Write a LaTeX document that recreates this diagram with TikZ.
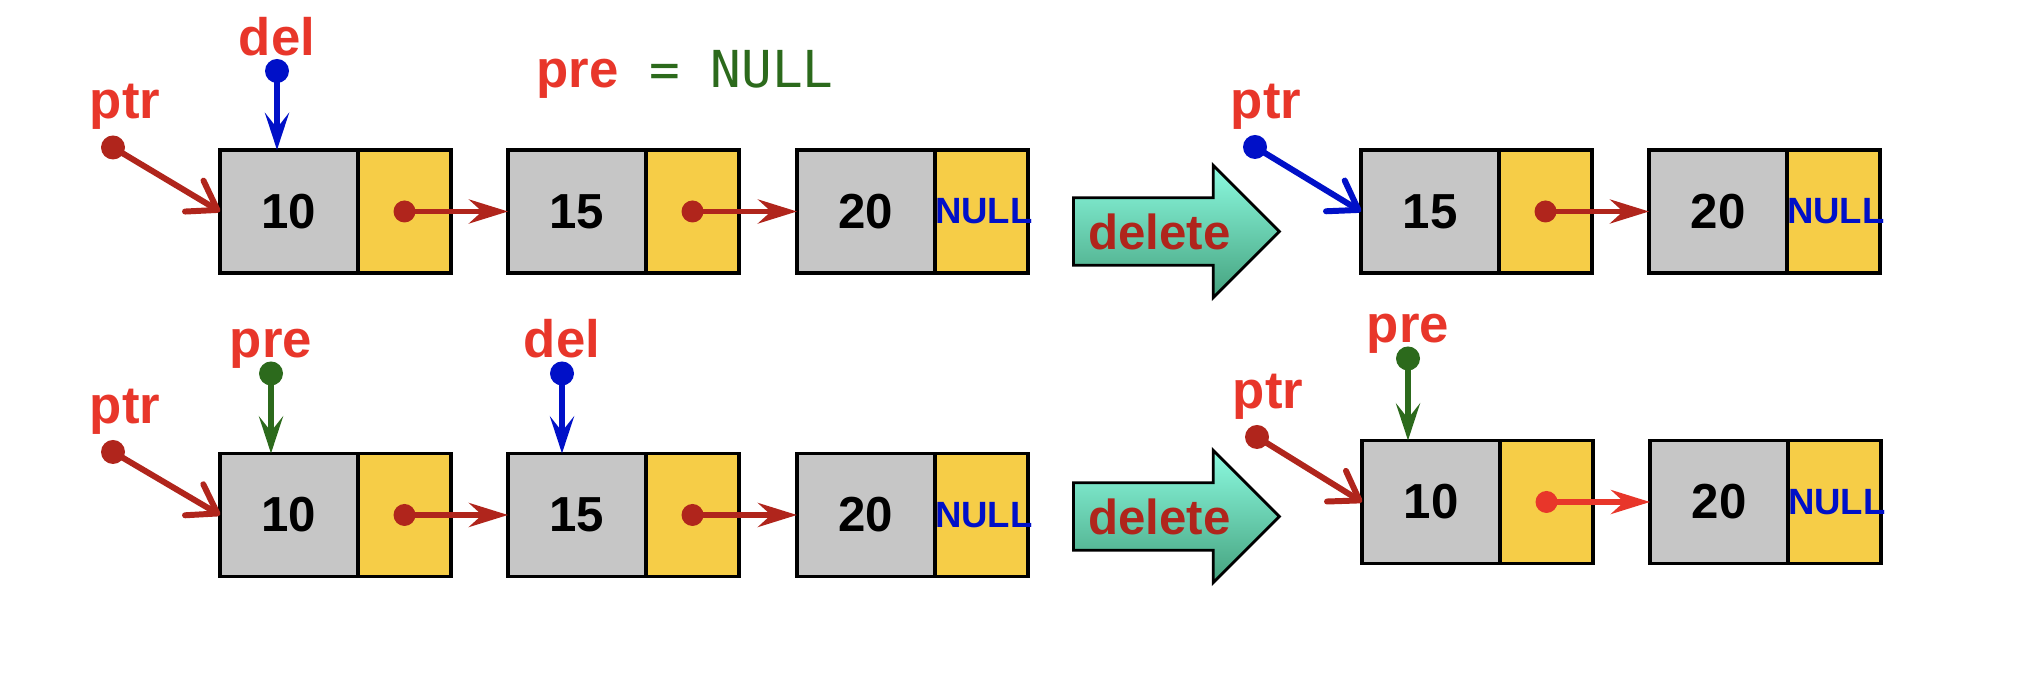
\documentclass[tikz,border=0pt]{standalone}
\usepackage{fontspec}
\setmainfont{Liberation Sans}
\newfontfamily\monofont{DejaVu Sans Mono}
\usepackage{tikz}
\usetikzlibrary{arrows.meta, shapes.arrows, positioning, calc}
\definecolor{labred}{HTML}{E8362A}
\definecolor{linkred}{HTML}{B0251C}
\definecolor{delblue}{HTML}{0010C8}
\definecolor{pregreen}{HTML}{2C6A1C}
\definecolor{cellgray}{HTML}{C6C6C6}
\definecolor{cellyel}{HTML}{F6CD47}
\definecolor{mint}{HTML}{6CE8BE}
\definecolor{mintlt}{HTML}{8CFAE0}
\definecolor{mintdk}{HTML}{45A27E}
\tikzset{
  >=Stealth,
  datcell/.style = {draw, line width=0.9pt, fill=cellgray,
                    minimum width=13.8mm, minimum height=12.3mm,
                    inner sep=0pt, outer sep=0pt,
                    font=\fontsize{14}{16}\selectfont\bfseries},
  nxtcell/.style = {draw, line width=0.9pt, fill=cellyel,
                    minimum width=9.3mm, minimum height=12.3mm,
                    text width=9.3mm, align=center,
                    inner sep=0pt, outer sep=0pt, text=delblue,
                    font=\fontsize{10.4}{12}\selectfont\bfseries},
  pdot/.style    = {circle, inner sep=0pt, minimum size=2.4mm, fill=#1},
  ldot/.style    = {circle, inner sep=0pt, minimum size=2.2mm, fill=#1},
  vname/.style   = {inner sep=0pt, text=labred,
                    font=\fontsize{15}{18}\selectfont\bfseries},
  ptrarr/.style  = {line width=1.7pt, line cap=round, draw=#1,
                    -{Straight Barb[length=2.7mm, width=3.6mm, round]}},
  downarr/.style = {line width=1.6pt, draw=#1,
                    -{Stealth[length=3.7mm, width=2.4mm, inset=1.5mm]}},
  nextarr/.style = {line width=1.6pt, draw=#1,
                    -{Stealth[length=3.9mm, width=2.4mm, inset=1.3mm]}},
  delarr/.style  = {single arrow, draw=black, line width=0.8pt,
                    single arrow head extend=3.25mm, single arrow tip angle=90,
                    minimum height=20.6mm, inner xsep=2pt, inner ysep=4.1pt,
                    text height=10.2pt, text depth=0pt,
                    top color=mintlt, middle color=mint, bottom color=mintdk,
                    text=linkred, font=\fontsize{14}{16}\selectfont\bfseries},
}

\begin{document}
\begin{tikzpicture}[node distance = 0pt and 5.7mm]
  \useasboundingbox (0,0) rectangle (20.17,6.73);

  % first case: del is the head
  \node[datcell]                    (a1)  at (2.89,4.615) {10};
  \node[nxtcell, right=0pt of a1]   (a1n) {};
  \node[datcell, right=5.7mm of a1n] (a2) {15};
  \node[nxtcell, right=0pt of a2]   (a2n) {};
  \node[datcell, right=5.8mm of a2n] (a3) {20};
  \node[nxtcell, right=0pt of a3]   (a3n) {NULL};

  \node[pdot=linkred] (pa) at ($(a1.west)+(-1.07,0.64)$) {};
  \node[vname, above=1.6mm of pa, anchor=base, xshift=1.2mm] (lpa) {ptr};
  \node[pdot=delblue] (da) at ($(a1.north)+(-0.12,0.79)$) {};
  \node[vname, above=0.3mm of da, anchor=base] (lda) {del};
  \node[vname, anchor=base] (prenull) at (6.85,5.85)
    {pre{\monofont\mdseries\fontsize{14.5}{17}\selectfont\color{pregreen}\ = NULL}};

  \node[delarr, anchor=tail] (go1) at (10.72,4.415) {delete};

  \node[datcell]                    (c1)  at (14.30,4.615) {15};
  \node[nxtcell, right=0pt of c1]   (c1n) {};
  \node[datcell, right=5.7mm of c1n] (c2) {20};
  \node[nxtcell, right=0pt of c2]   (c2n) {NULL};

  \node[pdot=delblue] (pc) at ($(c1.west)+(-1.06,0.645)$) {};
  \node[vname, above=1.6mm of pc, anchor=base, xshift=1.1mm] (lpc) {ptr};

  % second case: del sits behind pre
  \node[datcell]                    (b1)  at (2.89,1.58) {10};
  \node[nxtcell, right=0pt of b1]   (b1n) {};
  \node[datcell, right=5.7mm of b1n] (b2) {15};
  \node[nxtcell, right=0pt of b2]   (b2n) {};
  \node[datcell, right=5.8mm of b2n] (b3) {20};
  \node[nxtcell, right=0pt of b3]   (b3n) {NULL};

  \node[pdot=linkred]  (pb) at ($(b1.west)+(-1.07,0.63)$) {};
  \node[vname, above=1.6mm of pb, anchor=base, xshift=1.2mm] (lpb) {ptr};
  \node[pdot=pregreen] (rb) at ($(b1.north)+(-0.18,0.80)$) {};
  \node[vname, above=0.3mm of rb, anchor=base] (lrb) {pre};
  \node[pdot=delblue]  (db) at ($(b2.north)+(-0.15,0.80)$) {};
  \node[vname, above=0.3mm of db, anchor=base] (ldb) {del};

  \node[delarr, anchor=tail] (go2) at (10.72,1.565) {delete};

  \node[datcell]                    (d1)  at (14.31,1.71) {10};
  \node[nxtcell, right=0pt of d1]   (d1n) {};
  \node[datcell, right=5.7mm of d1n] (d2) {20};
  \node[nxtcell, right=0pt of d2]   (d2n) {NULL};

  \node[pdot=linkred]  (pd) at ($(d1.west)+(-1.05,0.65)$) {};
  \node[vname, above=1.6mm of pd, anchor=base, xshift=1.1mm] (lpd) {ptr};
  \node[pdot=pregreen] (rd) at ($(d1.north)+(-0.23,0.82)$) {};
  \node[vname, above=0.3mm of rd, anchor=base] (lrd) {pre};

  % links
  \foreach \s/\t/\c in {a1n/a2/linkred, a2n/a3/linkred, c1n/c2/linkred,
                        b1n/b2/linkred, b2n/b3/linkred, d1n/d2/labred} {
    \node[ldot=\c] (d\s) at (\s.center) {};
    \draw[nextarr=\c] (d\s.center) -- (\t.west);
  }

  % pointers
  \foreach \p/\n/\c in {pa/a1/linkred, pc/c1/delblue, pb/b1/linkred, pd/d1/linkred}
    \draw[ptrarr=\c] (\p.center) -- (\n.west);
  \foreach \p/\n/\c in {da/a1/delblue, rb/b1/pregreen, db/b2/delblue, rd/d1/pregreen}
    \draw[downarr=\c] (\p.center) -- (\p |- \n.north);
\end{tikzpicture}
\end{document}
